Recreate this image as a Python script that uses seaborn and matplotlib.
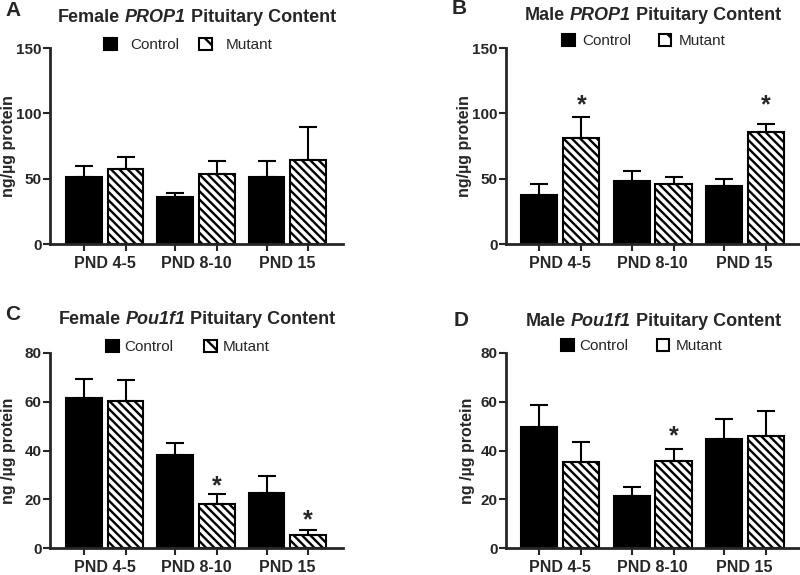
import matplotlib
matplotlib.use('Agg')
import matplotlib.pyplot as plt
from matplotlib.patches import Patch
from matplotlib.offsetbox import TextArea, HPacker, AnchoredOffsetbox
import seaborn as sns
import pandas as pd

# Data (mean and upper SEM)
ages = ['PND 4-5', 'PND 8-10', 'PND 15']
groups = ['Control', 'Mutant']

# A - female PROP1
a_control = [51, 36, 51]
a_control_sem = [9, 3, 12.8]
a_mutant = [57.4, 53.6, 64.3]
a_mutant_sem = [9.4, 10.2, 25.2]

# B - male PROP1
b_control = [37.8, 48, 44.1]
b_control_sem = [8.1, 7.6, 5.9]
b_mutant = [81, 45.9, 86]
b_mutant_sem = [16.2, 5.6, 6]

# C - female Pou1f1
c_control = [61.7, 38, 22.7]
c_control_sem = [7.8, 5.2, 6.8]
c_mutant = [60.2, 18.2, 5.5]
c_mutant_sem = [8.6, 4.0, 2.0]

# D - male Pou1f1
d_control = [49.7, 21.2, 44.9]
d_control_sem = [9.1, 3.8, 8.0]
d_mutant = [35.3, 35.7, 45.8]
d_mutant_sem = [8.1, 4.8, 10.4]

# significant mutant bars: (age index, star height)
b_stars = [(0, 111.7), (2, 111.7)]
c_stars = [(1, 28.5), (2, 14.4)]
d_stars = [(1, 49)]

sns.set_style('ticks')
plt.rcParams['font.family'] = ['Liberation Sans', 'DejaVu Sans']
plt.rcParams['hatch.linewidth'] = 1.7

HATCH = '\\\\\\\\'

panels = [
    dict(letter='A', title=('Female', 'PROP1', 'Pituitary Content'),
         ctrl=a_control, ctrl_sem=a_control_sem, mut=a_mutant, mut_sem=a_mutant_sem,
         ymax=150, yticks=[0, 50, 100, 150], ylabel='ng/µg protein', stars=[],
         rect=[50, 48, 293, 196], xlim=(-0.6, 2.61), letter_xy=(13, 11), title_xy=(197, 17),
         leg_xy=(104, 45), leg_pad=0.9, leg_col=1.3, ylab_x=-0.115),
    dict(letter='B', title=('Male', 'PROP1', 'Pituitary Content'),
         ctrl=b_control, ctrl_sem=b_control_sem, mut=b_mutant, mut_sem=b_mutant_sem,
         ymax=150, yticks=[0, 50, 100, 150], ylabel='ng/µg protein', stars=b_stars,
         rect=[506, 48, 294, 196], xlim=(-0.59, 2.6), letter_xy=(459, 9), title_xy=(653, 15),
         leg_xy=(562, 41), leg_pad=0.5, leg_col=1.8, ylab_x=-0.115),
    dict(letter='C', title=('Female', 'Pou1f1', 'Pituitary Content'),
         ctrl=c_control, ctrl_sem=c_control_sem, mut=c_mutant, mut_sem=c_mutant_sem,
         ymax=80, yticks=[0, 20, 40, 60, 80], ylabel='ng /µg protein', stars=c_stars,
         rect=[50, 353, 293, 195], xlim=(-0.6, 2.61), letter_xy=(13, 315), title_xy=(197, 320),
         leg_xy=(106, 347), leg_pad=0.4, leg_col=2.0, ylab_x=-0.115),
    dict(letter='D', title=('Male', 'Pou1f1', 'Pituitary Content'),
         ctrl=d_control, ctrl_sem=d_control_sem, mut=d_mutant, mut_sem=d_mutant_sem,
         ymax=80, yticks=[0, 20, 40, 60, 80], ylabel='ng /µg protein', stars=d_stars,
         rect=[506, 353, 294, 195], xlim=(-0.59, 2.6), letter_xy=(461, 320), title_xy=(653, 322),
         leg_xy=(561, 346), leg_pad=0.4, leg_col=1.85, ylab_x=-0.105),
]

W, H = 800, 575
fig = plt.figure(figsize=(8, 5.75), dpi=100)

for p in panels:
    x0, y0, w, h = p['rect']
    ax = fig.add_axes([x0 / W, 1 - (y0 + h) / H, w / W, h / H])

    df = pd.DataFrame({
        'age': ages * 2,
        'group': ['Control'] * 3 + ['Mutant'] * 3,
        'value': p['ctrl'] + p['mut'],
        'sem': p['ctrl_sem'] + p['mut_sem'],
    })

    sns.barplot(data=df, x='age', y='value', hue='group', order=ages, hue_order=groups,
                palette=['black', 'white'], edgecolor='black', linewidth=1.5,
                width=0.91, gap=0.14, errorbar=None, legend=False, ax=ax)

    centers = []
    for g, cont in zip(groups, ax.containers):
        sub = df[df['group'] == g]
        xs = [r.get_x() + r.get_width() / 2 for r in cont]
        centers += xs
        if g == 'Mutant':
            for r in cont:
                r.set_hatch(HATCH)
            mut_x = xs
        ax.errorbar(xs, sub['value'], yerr=[[0] * 3, sub['sem']], fmt='none',
                    ecolor='black', elinewidth=1.5, capsize=6.5, capthick=1.5, zorder=1)

    # asterisks over significant mutant bars
    for i, yv in p['stars']:
        ax.annotate('*', (mut_x[i], yv), xytext=(0, -0.58 * 18), textcoords='offset points',
                    ha='center', va='baseline', fontsize=18, fontweight='bold')

    ax.set_xlim(*p['xlim'])
    ax.set_ylim(0, p['ymax'])
    ax.set_yticks(p['yticks'])
    ax.set_xticks(sorted(centers), [''] * len(centers))
    ax.set_xticks([0, 1, 2], ages, minor=True)
    ax.tick_params(axis='x', which='major', length=5, width=1.5)
    ax.tick_params(axis='x', which='minor', length=0, pad=8.5, labelsize=11.5)
    ax.tick_params(axis='y', length=5, width=1.5, pad=1, labelsize=11)
    for lab in ax.get_xticklabels(minor=True) + ax.get_yticklabels():
        lab.set_fontweight('bold')
    ax.set_xlabel('')
    ax.set_ylabel(p['ylabel'], fontsize=11.5, fontweight='bold')
    ax.yaxis.set_label_coords(p['ylab_x'], 0.5)
    sns.despine(ax=ax)
    for s in ['left', 'bottom']:
        ax.spines[s].set_linewidth(2)

    handles = [Patch(facecolor='black', edgecolor='black', linewidth=1.5),
               Patch(facecolor='white', edgecolor='black', linewidth=1.5, hatch='\\')]
    lx, ly = p['leg_xy']
    ax.legend(handles, groups, ncol=2, frameon=False, fontsize=11,
              loc='center left', bbox_to_anchor=(lx / W, 1 - ly / H), bbox_transform=fig.transFigure,
              borderpad=0, borderaxespad=0, handlelength=0.82, handleheight=0.885,
              handletextpad=p['leg_pad'], columnspacing=p['leg_col'])

    fig.text(p['letter_xy'][0] / W, 1 - p['letter_xy'][1] / H, p['letter'],
             ha='center', va='center', fontsize=15, fontweight='bold')

    # title with italic gene name
    pre, gene, post = p['title']
    tprops = dict(fontsize=13, fontweight='bold')
    parts = [TextArea(pre, textprops=tprops),
             TextArea(gene, textprops=dict(tprops, fontstyle='italic')),
             TextArea(post, textprops=tprops)]
    box = HPacker(children=parts, align='baseline', pad=0, sep=3.6)
    anch = AnchoredOffsetbox(loc='center', child=box, pad=0, borderpad=0, frameon=False,
                             bbox_to_anchor=(p['title_xy'][0] / W, 1 - p['title_xy'][1] / H),
                             bbox_transform=fig.transFigure)
    fig.add_artist(anch)

fig.savefig('out.png', dpi=100)
